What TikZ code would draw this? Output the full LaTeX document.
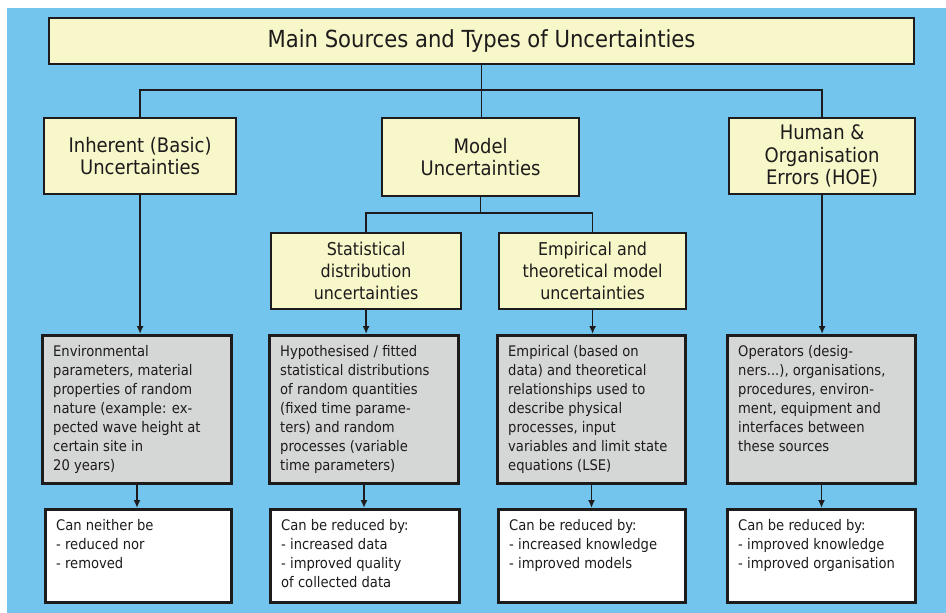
\documentclass[tikz,border=0pt]{standalone}
\usepackage{fontspec}
\setmainfont{DejaVu Sans Condensed}
\usetikzlibrary{arrows.meta}
\definecolor{bgblue}{RGB}{116,197,237}
\definecolor{yfill}{RGB}{247,247,201}
\definecolor{gfill}{RGB}{213,214,214}
\definecolor{ink}{RGB}{30,27,28}
\begin{document}
\begin{tikzpicture}[x=1pt,y=-1pt,
  ybox/.style={draw=ink, fill=yfill, line width=2.2pt, inner sep=0pt, anchor=north west,
    align=center, text=ink, font=\fontsize{20}{22.5}\selectfont},
  sbox/.style={ybox, font=\fontsize{17.7}{22}\selectfont},
  gbox/.style={draw=ink, fill=gfill, line width=3pt, inner sep=0pt, anchor=north west, minimum height=148},
  wbox/.style={draw=ink, fill=white, line width=2.6pt, inner sep=0pt, anchor=north west, minimum height=93.4},
  btext/.style={anchor=north west, inner sep=0pt, align=left, text=ink,
    font=\fontsize{14.6}{19}\selectfont},
  conn/.style={draw=ink, line width=1.6pt},
  arr/.style={conn, -{Latex[length=8pt,width=7pt]}}]
\useasboundingbox (0,0) rectangle (946,613);
\fill[bgblue] (7,8) rectangle (946,613);
% top level
\node[ybox, minimum width=865, minimum height=46, font=\fontsize{23.5}{27}\selectfont] (title) at (48,17) {Main Sources and Types of Uncertainties};
\node[ybox, minimum width=192, minimum height=76] (inh) at (43,117) {Inherent (Basic)\\Uncertainties};
\node[ybox, minimum width=197, minimum height=78] (mod) at (381,117) {Model\\Uncertainties};
\node[ybox, minimum width=186, minimum height=76] (hum) at (728,117) {Human \&\\Organisation\\Errors (HOE)};
\node[sbox, minimum width=190, minimum height=76] (stat) at (270,232) {Statistical\\distribution\\uncertainties};
\node[sbox, minimum width=187, minimum height=76] (emp) at (498,232) {Empirical and\\theoretical model\\uncertainties};
% gray boxes
\node[gbox, minimum width=189] (g1) at (41,334) {};
\node[gbox, minimum width=189] (g2) at (268,334) {};
\node[gbox, minimum width=188] (g3) at (496,334) {};
\node[gbox, minimum width=188] (g4) at (726,334) {};
% white boxes
\node[wbox, minimum width=186] (w1) at (44,508) {};
\node[wbox, minimum width=189] (w2) at (269,508) {};
\node[wbox, minimum width=187] (w3) at (497,508) {};
\node[wbox, minimum width=188] (w4) at (726,508) {};
% texts
\node[btext] (g1t) at ([shift={(12,11)}]g1.north west) {Environmental\\parameters, material\\properties of random\\nature (example: ex-\\pected wave height at\\certain site in\\20 years)};
\node[btext] (g2t) at ([shift={(12,11)}]g2.north west) {Hypothesised / fitted\\statistical distributions\\of random quantities\\(fixed time parame-\\ters) and random\\processes (variable\\time parameters)};
\node[btext] (g3t) at ([shift={(12,11)}]g3.north west) {Empirical (based on\\data) and theoretical\\relationships used to\\describe physical\\processes, input\\variables and limit state\\equations (LSE)};
\node[btext] (g4t) at ([shift={(12,11)}]g4.north west) {Operators (desig-\\ners...), organisations,\\procedures, environ-\\ment, equipment and\\interfaces between\\these sources};
\node[btext] (w1t) at ([shift={(12,11)}]w1.north west) {Can neither be\\- reduced nor\\- removed};
\node[btext] (w2t) at ([shift={(12,11)}]w2.north west) {Can be reduced by:\\- increased data\\- improved quality\\of collected data};
\node[btext] (w3t) at ([shift={(12,11)}]w3.north west) {Can be reduced by:\\- increased knowledge\\- improved models};
\node[btext] (w4t) at ([shift={(12,11)}]w4.north west) {Can be reduced by:\\- improved knowledge\\- improved organisation};
% connectors
\coordinate (j1) at (480,90);
\coordinate (j2) at (480,213);
\draw[conn] (title.south) -- (title.south |- mod.north);
\draw[conn] (inh.north) -- (inh.north |- j1) -- (hum.north |- j1) -- (hum.north);
\draw[conn] (mod.south) -- (mod.south |- j2);
\draw[conn] (stat.north) -- (stat.north |- j2) -- (emp.north |- j2) -- (emp.north);
\draw[arr] (inh.south) -- (inh.south |- g1.north);
\draw[arr] (hum.south) -- (hum.south |- g4.north);
\draw[arr] (stat.south) -- (stat.south |- g2.north);
\draw[arr] (emp.south) -- (emp.south |- g3.north);
\draw[arr] (g1.south) -- (g1.south |- w1.north);
\draw[arr] (g2.south) -- (g2.south |- w2.north);
\draw[arr] (g3.south) -- (g3.south |- w3.north);
\draw[arr] (g4.south) -- (g4.south |- w4.north);
\end{tikzpicture}
\end{document}
